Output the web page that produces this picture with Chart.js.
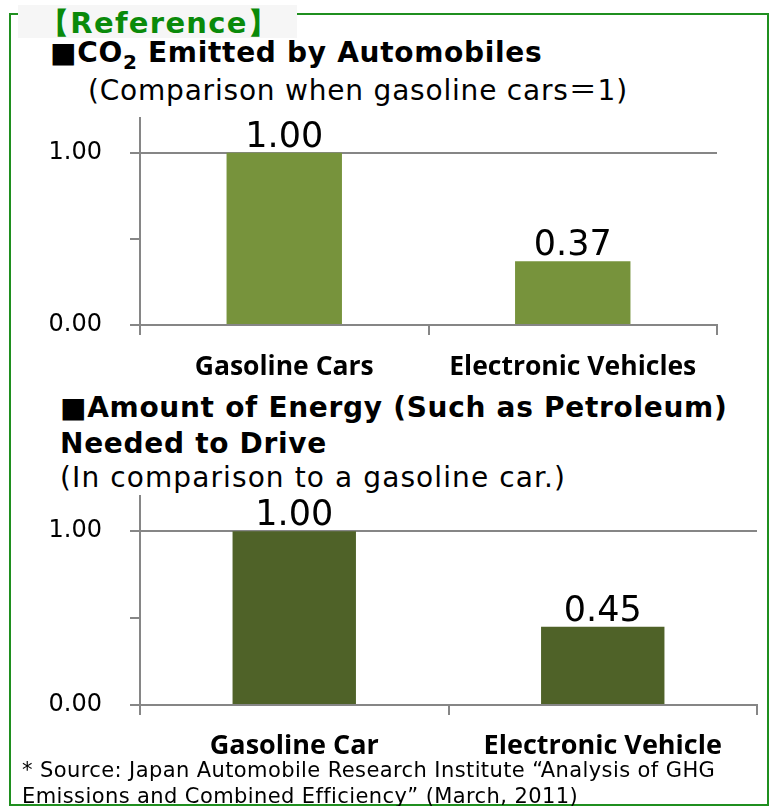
<!DOCTYPE html>
<html>
<head>
<meta charset="utf-8">
<script src="https://cdn.jsdelivr.net/npm/chart.js@4"></script>
<style>
html, body { margin: 0; padding: 0; background: #fff; }
body { width: 769px; height: 806px; position: relative; overflow: hidden; font-family: "DejaVu Sans", Verdana, sans-serif; color: #000; }
.frame { position: absolute; left: 9px; top: 13px; width: 760px; height: 793px; box-sizing: border-box; border: 2px solid #1f8f1f; }
.tagbox { position: absolute; left: 18px; top: 5px; width: 279px; height: 33px; background: #f6f6f6; }
.t { position: absolute; white-space: nowrap; line-height: 1; }
.tag { left: 40px; top: 9px; font-size: 29px; font-weight: bold; color: #0a8a0a; letter-spacing: 1.3px; }
.h { font-size: 28px; font-weight: bold; letter-spacing: 0.7px; }
.s { font-size: 28px; letter-spacing: 0.8px; }
.foot { font-size: 21px; letter-spacing: 0.4px; }
.cjk { font-family: "Noto Sans CJK JP", "DejaVu Sans", sans-serif; line-height: 0; }
canvas { position: absolute; left: 0; }
</style>
</head>
<body>
<div class="frame"></div>
<div class="tagbox"></div>
<div class="t tag">【Reference】</div>

<div class="t h" style="left:50px;top:39px">■CO<span style="position:relative;top:7px;font-size:20px">2</span> Emitted by Automobiles</div>
<div class="t s" style="left:88px;top:77px;letter-spacing:0.8px">(Comparison when gasoline cars<span class="cjk">＝</span>1)</div>
<canvas id="co2Chart" width="769" height="314" style="top:76px"></canvas>

<div class="t h" style="left:60px;top:394px">■Amount of Energy (Such as Petroleum)</div>
<div class="t h" style="left:60px;top:430px">Needed to Drive</div>
<div class="t s" style="left:60px;top:464px;letter-spacing:1.1px">(In comparison to a gasoline car.)</div>
<canvas id="energyChart" width="769" height="316" style="top:454px"></canvas>

<div class="t foot" style="left:22px;top:760px">* Source: Japan Automobile Research Institute “Analysis of GHG</div>
<div class="t foot" style="left:22px;top:786px">Emissions and Combined Efficiency” (March, 2011)</div>

<script>
// chart data
const co2Categories = ['Gasoline Cars', 'Electronic Vehicles'];
const co2Values = [1.00, 0.37];
const energyCategories = ['Gasoline Car', 'Electronic Vehicle'];
const energyValues = [1.00, 0.45];
const yTicks = [0, 0.5, 1];
const yMax = 1.2;

const axisGray = '#868686';

Chart.defaults.font.family = '"DejaVu Sans", Verdana, sans-serif';
Chart.defaults.color = '#000';

// draws the value above each bar
const valueLabels = {
    id: 'valueLabels',
    afterDatasetsDraw(chart) {
        const ctx = chart.ctx;
        const meta = chart.getDatasetMeta(0);
        const data = chart.data.datasets[0].data;
        ctx.save();
        ctx.font = '35px "DejaVu Sans", Verdana, sans-serif';
        ctx.fillStyle = '#000';
        ctx.textAlign = 'center';
        ctx.textBaseline = 'alphabetic';
        meta.data.forEach((bar, i) => {
            ctx.fillText(data[i].toFixed(2), bar.x, bar.y - 6);
        });
        ctx.restore();
    }
};

function makeChart(id, labels, values, color, padding, labelSize, labelPad) {
    const ctx = document.getElementById(id).getContext('2d');
    return new Chart(ctx, {
        type: 'bar',
        data: {
            labels: labels,
            datasets: [{
                data: values,
                backgroundColor: color,
                barPercentage: 0.4,
                categoryPercentage: 1
            }]
        },
        options: {
            responsive: false,
            animation: false,
            events: [],
            layout: { padding: padding },
            plugins: { legend: { display: false }, tooltip: { enabled: false } },
            scales: {
                x: {
                    offset: true,
                    afterFit: s => { s.height = 65; },
                    border: { color: axisGray, width: 2 },
                    grid: { offset: true, drawOnChartArea: false, color: axisGray, tickColor: axisGray, tickLength: 10, lineWidth: 2 },
                    ticks: {
                        color: '#000',
                        padding: labelPad,
                        font: { family: '"Open Sans", sans-serif', size: labelSize, weight: 'bold' }
                    }
                },
                y: {
                    min: 0,
                    max: yMax,
                    afterBuildTicks: s => { s.ticks = yTicks.map(v => ({ value: v })); },
                    afterFit: s => { s.width = 140; },
                    border: { color: axisGray, width: 2 },
                    grid: {
                        color: c => (c.tick && c.tick.value === 1) ? axisGray : 'rgba(0,0,0,0)',
                        tickColor: axisGray,
                        tickLength: 10,
                        lineWidth: 2
                    },
                    ticks: {
                        padding: 28,
                        color: '#000',
                        font: { size: 24 },
                        callback: v => (v === 0.5 ? '' : v.toFixed(2))
                    }
                }
            }
        },
        plugins: [valueLabels]
    });
}

makeChart('co2Chart', co2Categories, co2Values, '#77933C', { top: 0, right: 52, left: 0, bottom: 0 }, 26.5, 17);
makeChart('energyChart', energyCategories, energyValues, '#4F6228', { top: 0, right: 12, left: 0, bottom: 0 }, 27, 15);
</script>
</body>
</html>
